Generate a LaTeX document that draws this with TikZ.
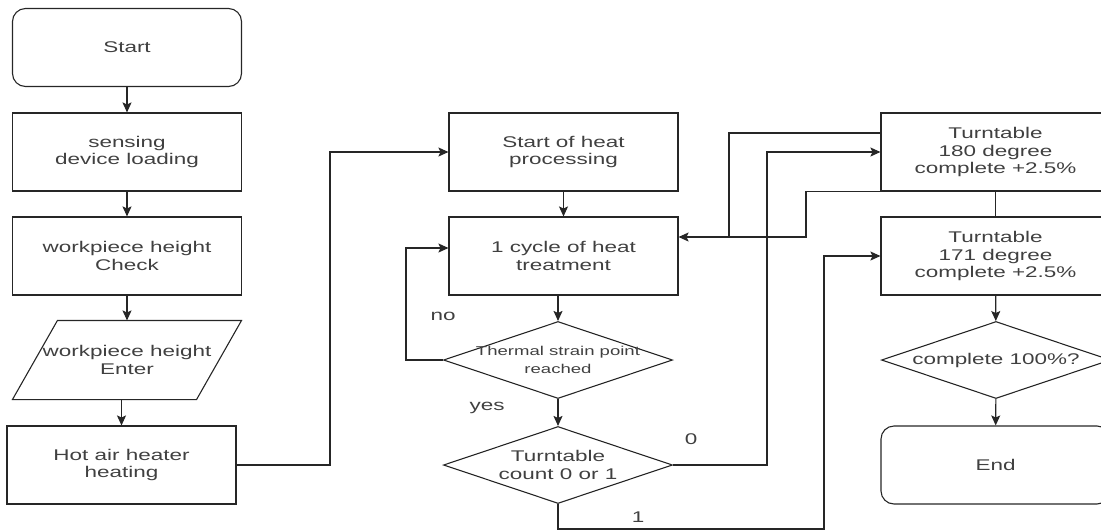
\documentclass[tikz,border=0pt]{standalone}
\usepackage{fontspec}
\setmainfont[FakeStretch=1.45]{Liberation Sans}
\usetikzlibrary{shapes.geometric, arrows.meta}

\begin{document}
\begin{tikzpicture}[x=1pt, y=-1pt,
    every node/.style={text=black!75, font=\fontsize{15.5}{17.5}\selectfont},
    procbox/.style={draw=black!85, line width=1.1pt, minimum width=229pt,
                    minimum height=78pt, align=center, inner sep=0pt},
    termbox/.style={procbox, rounded corners=13pt},
    iobox/.style={procbox, draw=none, minimum width=183pt},
    decide/.style={procbox, diamond, aspect=3, minimum height=77pt},
    flow/.style={draw=black!85, line width=1.1pt,
                 -{Stealth[length=10pt, width=9pt, inset=2pt]}},
    link/.style={draw=black!85, line width=1.1pt},
    lbl/.style={inner sep=0pt}]
  \useasboundingbox (0,0) rectangle (1101,531);

  % Left column
  \node[termbox] (start) at (127,47.5) {Start};
  \node[procbox] (sense) at (127,152) {sensing\\device loading};
  \node[procbox] (check) at (127,256) {workpiece height\\Check};
  \node[iobox]   (enter) at (127,360) {workpiece height\\Enter};
  \draw[link] ([xshift=-22.5pt]enter.south west) -- ([xshift=22.5pt]enter.north west)
           -- ([xshift=22.5pt]enter.north east) -- ([xshift=-22.5pt]enter.south east) -- cycle;
  \node[procbox] (hot)   at (121.5,465) {Hot air heater\\heating};

  % Middle column
  \node[procbox] (heat)   at (563.5,152) {Start of heat\\processing};
  \node[procbox] (cycle)  at (563.5,256) {1 cycle of heat\\treatment};
  \node[decide, font=\fontsize{12.8}{18}\selectfont] (strain) at (558,360)
        {\makebox[0pt]{Thermal strain point}\\\makebox[0pt]{reached}};
  \node[decide]  (count)  at (558,465) {Turntable\\count 0 or 1};

  % Right column
  \node[procbox] (t180) at (995.5,152) {Turntable\\180 degree\\complete +2.5\%};
  \node[procbox] (t171) at (995.5,256) {Turntable\\171 degree\\complete +2.5\%};
  \node[decide]  (done) at (996,360) {complete 100\%?};
  \node[termbox] (stop) at (995.5,465) {End};

  % Bend points
  \coordinate (jog)    at (330,0);
  \coordinate (noturn) at (406,248);
  \coordinate (zeroup) at (767,152);
  \coordinate (onedn)  at (558,529);
  \coordinate (oneup)  at (824,256);
  \coordinate (backa)  at (729,133);
  \coordinate (backb)  at (729,237);
  \coordinate (backc)  at (806,237);

  % Connectors
  \draw[flow] (start) -- (sense);
  \draw[flow] (sense) -- (check);
  \draw[flow] (check) -- (enter.north);
  \draw[flow] (enter.south -| hot.north) -- (hot.north);
  \draw[flow] (hot.east) -- (hot.east -| jog) |- (heat.west);
  \draw[flow] (heat) -- (cycle);
  \draw[flow] (cycle.south -| strain.north) -- (strain.north);
  \draw[flow] (strain.west) -| (noturn) -- (noturn -| cycle.west);
  \draw[flow] (strain) -- (count);
  \draw[flow] (count.east) -| (zeroup) -- (t180.west);
  \draw[flow] (count.south) -- (onedn) -| (oneup) -- (t171.west);
  \draw[flow] (t180.west |- backa) -| (backb) -- (backb -| cycle.east);
  \draw[link] (t171.north) -- (t180.south) -| (backc) -- (backb);
  \draw[flow] (t171) -- (done);
  \draw[flow] (done) -- (stop);

  % Branch labels
  \node[lbl] (lno)   at (443,316) {no};
  \node[lbl] (lyes)  at (487,408) {yes};
  \node[lbl] (lzero) at (691,439) {0};
  \node[lbl] (lone)  at (638,517) {1};
\end{tikzpicture}
\end{document}
